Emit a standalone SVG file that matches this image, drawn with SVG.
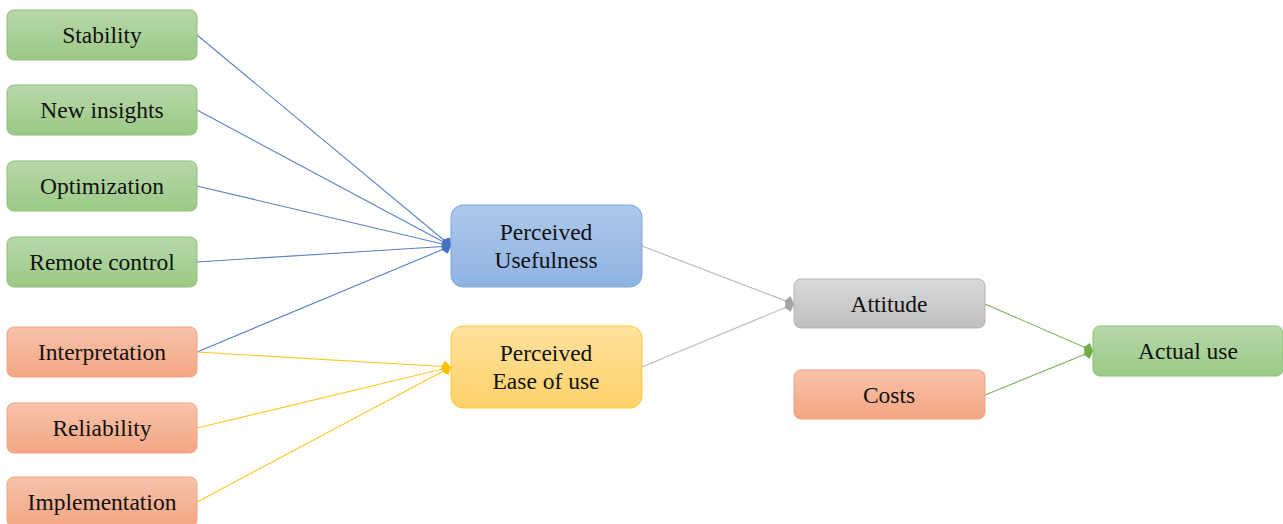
<svg xmlns="http://www.w3.org/2000/svg" width="1283" height="524" viewBox="0 0 1283 524">
  <defs>
    <linearGradient id="gGreen" x1="0" y1="0" x2="0" y2="1">
      <stop offset="0" stop-color="#b7d8a9"/>
      <stop offset="1" stop-color="#9bc986"/>
    </linearGradient>
    <linearGradient id="gOrange" x1="0" y1="0" x2="0" y2="1">
      <stop offset="0" stop-color="#f7c3aa"/>
      <stop offset="1" stop-color="#f3a684"/>
    </linearGradient>
    <linearGradient id="gBlue" x1="0" y1="0" x2="0" y2="1">
      <stop offset="0" stop-color="#adc8ea"/>
      <stop offset="1" stop-color="#8eb3e2"/>
    </linearGradient>
    <linearGradient id="gYellow" x1="0" y1="0" x2="0" y2="1">
      <stop offset="0" stop-color="#ffe29e"/>
      <stop offset="1" stop-color="#ffd169"/>
    </linearGradient>
    <linearGradient id="gGray" x1="0" y1="0" x2="0" y2="1">
      <stop offset="0" stop-color="#d9d9d9"/>
      <stop offset="1" stop-color="#bfbfbf"/>
    </linearGradient>
    <marker id="mBlue" markerUnits="userSpaceOnUse" markerWidth="12" markerHeight="14" refX="11" refY="7" orient="auto">
      <path d="M1,7 L5,1 L11,7 L5,13 Z" fill="#4472c4"/>
    </marker>
    <marker id="mYellow" markerUnits="userSpaceOnUse" markerWidth="12" markerHeight="14" refX="11" refY="7" orient="auto">
      <path d="M1,7 L5,1 L11,7 L5,13 Z" fill="#ffc000"/>
    </marker>
    <marker id="mGray" markerUnits="userSpaceOnUse" markerWidth="12" markerHeight="14" refX="11" refY="7" orient="auto">
      <path d="M1,7 L5,1 L11,7 L5,13 Z" fill="#a5a5a5"/>
    </marker>
    <marker id="mGreen" markerUnits="userSpaceOnUse" markerWidth="12" markerHeight="14" refX="11" refY="7" orient="auto">
      <path d="M1,7 L5,1 L11,7 L5,13 Z" fill="#70ad47"/>
    </marker>
  </defs>
  <style>
    .lbl { font-family: 'Liberation Serif', 'Times New Roman', serif; font-size: 23.5px; fill: #111; text-anchor: middle; }
    .green { fill: url(#gGreen); stroke: #8dbf76; stroke-width: 1; }
    .orange { fill: url(#gOrange); stroke: #f2a27f; stroke-width: 1; }
    .blue { fill: url(#gBlue); stroke: #7ea6da; stroke-width: 1; }
    .yellow { fill: url(#gYellow); stroke: #ffc83d; stroke-width: 1; }
    .gray { fill: url(#gGray); stroke: #b3b3b3; stroke-width: 1; }
    .cb { stroke: #5b80c8; stroke-width: 1.1; fill: none; marker-end: url(#mBlue); }
    .cy { stroke: #ffc629; stroke-width: 1.1; fill: none; marker-end: url(#mYellow); }
    .cg { stroke: #b8b8b8; stroke-width: 1.1; fill: none; marker-end: url(#mGray); }
    .cgr { stroke: #7cb45a; stroke-width: 1.1; fill: none; marker-end: url(#mGreen); }
  </style>

  <!-- connectors -->
  <g id="connectors">
    <line class="cb" x1="197" y1="35" x2="451" y2="246"/>
    <line class="cb" x1="197" y1="110" x2="451" y2="246"/>
    <line class="cb" x1="197" y1="186" x2="451" y2="246"/>
    <line class="cb" x1="197" y1="262" x2="451" y2="246"/>
    <line class="cb" x1="197" y1="352" x2="451" y2="246"/>
    <line class="cy" x1="197" y1="352" x2="451" y2="367"/>
    <line class="cy" x1="197" y1="428" x2="451" y2="367"/>
    <line class="cy" x1="197" y1="502" x2="451" y2="367"/>
    <line class="cg" x1="642" y1="246" x2="794" y2="304"/>
    <line class="cg" x1="642" y1="367" x2="794" y2="304"/>
    <line class="cgr" x1="985" y1="304" x2="1093" y2="351"/>
    <line class="cgr" x1="985" y1="395" x2="1093" y2="351"/>
  </g>

  <!-- input factors -->
  <g id="stability">
    <rect class="green" x="7" y="10" width="190" height="50" rx="7"/>
    <text class="lbl" x="102" y="43">Stability</text>
  </g>
  <g id="new-insights">
    <rect class="green" x="7" y="85" width="190" height="50" rx="7"/>
    <text class="lbl" x="102" y="118">New insights</text>
  </g>
  <g id="optimization">
    <rect class="green" x="7" y="161" width="190" height="50" rx="7"/>
    <text class="lbl" x="102" y="194">Optimization</text>
  </g>
  <g id="remote-control">
    <rect class="green" x="7" y="237" width="190" height="50" rx="7"/>
    <text class="lbl" x="102" y="270">Remote control</text>
  </g>
  <g id="interpretation">
    <rect class="orange" x="7" y="327" width="190" height="50" rx="7"/>
    <text class="lbl" x="102" y="360">Interpretation</text>
  </g>
  <g id="reliability">
    <rect class="orange" x="7" y="403" width="190" height="50" rx="7"/>
    <text class="lbl" x="102" y="436">Reliability</text>
  </g>
  <g id="implementation">
    <rect class="orange" x="7" y="477" width="190" height="50" rx="7"/>
    <text class="lbl" x="102" y="510">Implementation</text>
  </g>

  <!-- perception constructs -->
  <g id="perceived-usefulness">
    <rect class="blue" x="451" y="205" width="191" height="82" rx="12"/>
    <text class="lbl" x="546" y="240">Perceived</text>
    <text class="lbl" x="546" y="268">Usefulness</text>
  </g>
  <g id="perceived-ease">
    <rect class="yellow" x="451" y="326" width="191" height="82" rx="12"/>
    <text class="lbl" x="546" y="361">Perceived</text>
    <text class="lbl" x="546" y="389">Ease of use</text>
  </g>

  <!-- outcomes -->
  <g id="attitude">
    <rect class="gray" x="794" y="279" width="191" height="49" rx="7"/>
    <text class="lbl" x="889" y="312">Attitude</text>
  </g>
  <g id="costs">
    <rect class="orange" x="794" y="370" width="191" height="49" rx="7"/>
    <text class="lbl" x="889" y="403">Costs</text>
  </g>
  <g id="actual-use">
    <rect class="green" x="1093" y="326" width="190" height="50" rx="7"/>
    <text class="lbl" x="1188" y="359">Actual use</text>
  </g>
</svg>
